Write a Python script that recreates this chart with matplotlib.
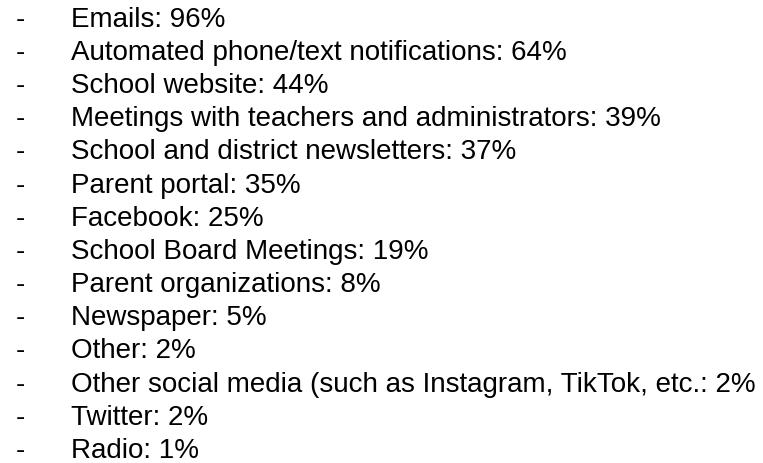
import matplotlib
matplotlib.use("Agg")
import matplotlib.pyplot as plt

categories = [
    "Emails",
    "Automated phone/text notifications",
    "School website",
    "Meetings with teachers and administrators",
    "School and district newsletters",
    "Parent portal",
    "Facebook",
    "School Board Meetings",
    "Parent organizations",
    "Newspaper",
    "Other",
    "Other social media (such as Instagram, TikTok, etc.",
    "Twitter",
    "Radio",
]
percentages = [96, 64, 44, 39, 37, 35, 25, 19, 8, 5, 2, 2, 2, 1]

W, H = 763, 464
fig = plt.figure(figsize=(W / 100, H / 100), dpi=100)
ax = fig.add_axes([0, 0, 1, 1])
ax.set_xlim(0, W)
ax.set_ylim(H, 0)
ax.axis("off")

first_baseline = 26.7
step = 33.18
fs = 20.0
for i, (cat, pct) in enumerate(zip(categories, percentages)):
    y = first_baseline + i * step
    ax.text(16, y, "-", fontsize=fs, family="Liberation Sans", va="baseline", ha="left", color="#000000")
    ax.text(71, y, f"{cat}: {pct}%", fontsize=fs, family="Liberation Sans", va="baseline", ha="left", color="#000000")

fig.savefig("out.png", dpi=100, facecolor="white")
